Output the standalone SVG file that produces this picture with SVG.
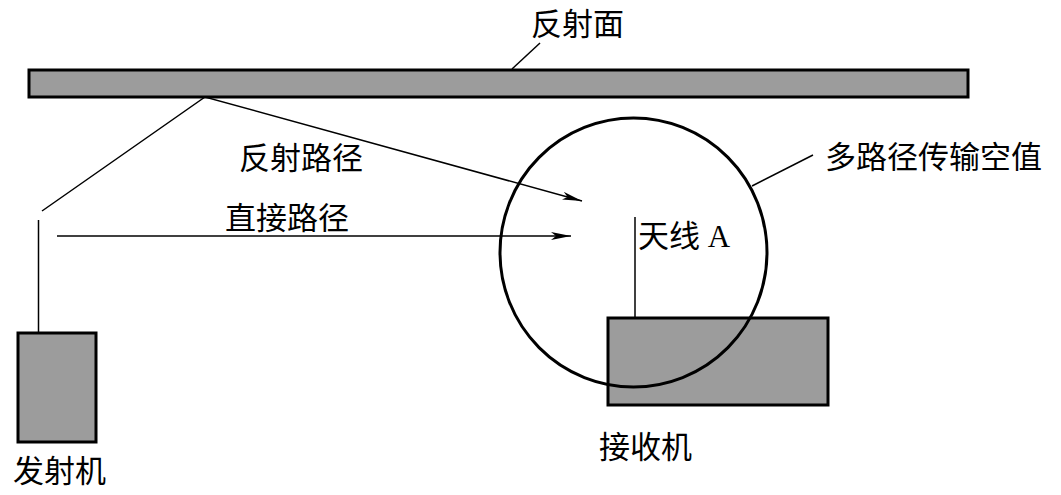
<svg xmlns="http://www.w3.org/2000/svg" width="1061" height="495" viewBox="0 0 1061 495">
<style>
.box{fill:#9c9c9c;stroke:#000;stroke-width:3}
.ln{fill:none;stroke:#000;stroke-width:1.5}
.t{font-family:"Liberation Serif","Noto Sans CJK SC",serif;font-size:31px;fill:#000}
</style>
<defs>
<marker id="ah" viewBox="0 0 20 8" refX="20" refY="4" markerWidth="20" markerHeight="8" markerUnits="userSpaceOnUse" orient="auto">
<path d="M0,0 L20,4 L0,8 L5,4 Z" fill="#000"/>
</marker>
</defs>
<g id="reflector">
<rect class="box" x="29" y="70" width="939" height="27"/>
<line class="ln" x1="512" y1="69" x2="540" y2="43"/>
<text class="t" x="531" y="35">反射面</text>
</g>
<g id="transmitter">
<rect class="box" x="18" y="333" width="78" height="109"/>
<line class="ln" x1="38.5" y1="220" x2="38.5" y2="332"/>
<text class="t" x="13" y="482">发射机</text>
</g>
<g id="receiver">
<rect class="box" x="608" y="318" width="220" height="87"/>
<line class="ln" x1="635" y1="217" x2="635" y2="317"/>
<text class="t" x="638" y="247">天线 A</text>
<text class="t" x="599" y="458">接收机</text>
</g>
<g id="null">
<ellipse cx="633.5" cy="252.5" rx="133.5" ry="134.5" fill="none" stroke="#000" stroke-width="3"/>
<line class="ln" x1="752" y1="186" x2="813" y2="155"/>
<text class="t" x="825" y="168">多路径传输空值</text>
</g>
<g id="connectors">
<polyline class="ln" points="42,211 205,97 582,201" marker-end="url(#ah)"/>
<line class="ln" x1="57" y1="236" x2="571" y2="236" marker-end="url(#ah)"/>
<text class="t" x="239" y="169">反射路径</text>
<text class="t" x="225" y="229">直接路径</text>
</g>
</svg>
